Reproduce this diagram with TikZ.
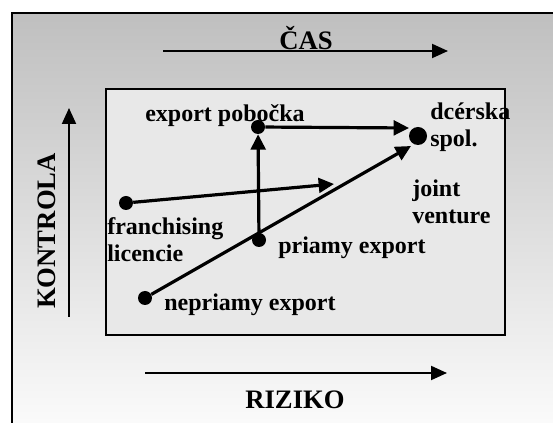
\documentclass[tikz,border=0pt]{standalone}
\usepackage{fontspec}
\setmainfont{Liberation Serif}
\usetikzlibrary{arrows.meta}
\definecolor{bgtop}{gray}{0.75}
\definecolor{bgbot}{gray}{0.985}
\definecolor{panel}{gray}{0.91}
\begin{document}
\begin{tikzpicture}[x=0.75pt,y=-0.75pt,
  axislabel/.style={font=\bfseries\fontsize{20}{24}\selectfont, inner sep=0},
  lbl/.style={font=\bfseries\fontsize{18}{20.3}\selectfont, inner sep=0,
    anchor=base west, align=left},
  axisarrow/.style={line width=1.5pt, -{Triangle[length=12pt,width=10.5pt]}},
  flow/.style={line width=2.4pt, -{Triangle[length=11.5pt,width=11pt]}},
  dot/.style={circle, fill=black, inner sep=0, minimum size=10.5pt},
  bigdot/.style={circle, fill=black, inner sep=0, minimum size=13.5pt}]
  \useasboundingbox (0,0) rectangle (553,423);
  \clip (0,0) rectangle (553,423);

  % shaded outer field with its frame
  \shade[top color=bgtop, bottom color=bgbot] (12,13) rectangle (560,430);
  \draw[line width=1.5pt] (12,430) |- (560,13);

  % axes
  \coordinate (casA) at (163,51);
  \coordinate (casB) at (448,51);
  \draw[axisarrow] (casA) -- (casB);
  \node[axislabel] (cas) at (306,38) {ČAS};

  \coordinate (rizA) at (145,373);
  \coordinate (rizB) at (447,373);
  \draw[axisarrow] (rizA) -- (rizB);
  \node[axislabel] (riz) at (295,400) {RIZIKO};

  \coordinate (konA) at (69,317);
  \coordinate (konB) at (69,108);
  \draw[axisarrow] (konA) -- (konB);
  \node[axislabel, rotate=90] (kon) at (47,231) {KONTROLA};

  % inner panel
  \draw[line width=1.5pt, fill=panel] (106,89) rectangle (505,335);

  % labels (base = baseline of the last line)
  \node[lbl] (lep) at (145,122) {export pobočka};
  \node[lbl] (lds) at (430,147) {dcérska\\spol.};
  \node[lbl] (ljv) at (412,224) {joint\\venture};
  \node[lbl] (lfr) at (107,262) {franchising\\licencie};
  \node[lbl] (lpe) at (278,254) {priamy export};
  \node[lbl] (lne) at (164,311) {nepriamy export};

  % entry modes
  \node[dot] (ep) at (258,127) {};
  \node[bigdot] (ds) at (418,136) {};
  \node[dot] (fr) at (126,203) {};
  \node[dot] (pe) at (259,240) {};
  \node[dot] (ne) at (145,298) {};
  \coordinate (dsTop) at (409,128);
  \coordinate (dsLow) at (411,146);
  \coordinate (frEnd) at (334,184);

  \draw[flow] (ep) -- (dsTop);
  \draw[flow] (pe) -- (ep);
  \draw[flow] (fr) -- (frEnd);
  \draw[flow] (ne) -- (dsLow);
\end{tikzpicture}
\end{document}
